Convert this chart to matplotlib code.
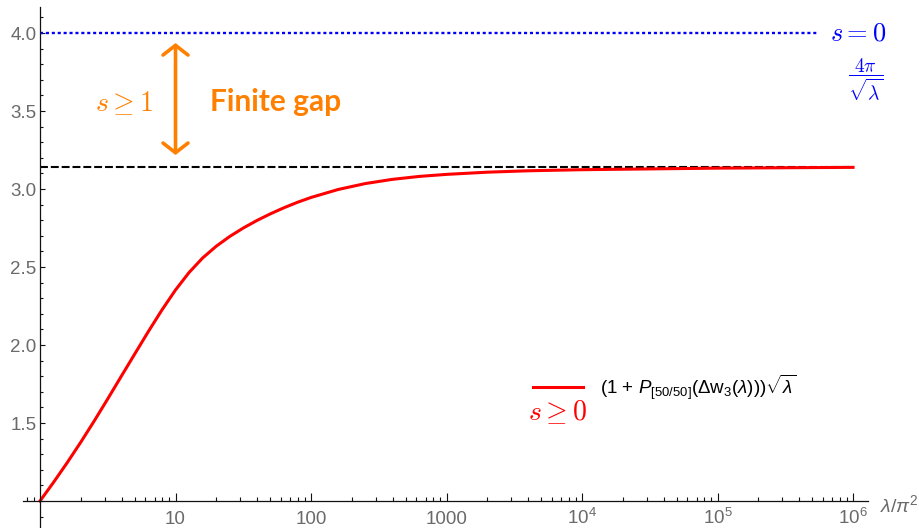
import numpy as np
import matplotlib
matplotlib.use("Agg")
import matplotlib.pyplot as plt
from matplotlib.lines import Line2D
from matplotlib.ticker import FixedLocator, FixedFormatter, LogLocator, MultipleLocator, NullFormatter

plt.rcParams["font.family"] = ["Liberation Sans", "DejaVu Sans"]
plt.rcParams["mathtext.fontset"] = "custom"
plt.rcParams["mathtext.rm"] = "Liberation Sans"
plt.rcParams["mathtext.it"] = "Liberation Sans:italic"
plt.rcParams["mathtext.bf"] = "Liberation Sans:bold"

# coupling lambda / pi^2 and the averaged gap (1 + P)(sqrt lambda)
lam_ratio = [1, 1.259, 1.585, 1.995, 2.512, 3.162, 3.981, 5.012, 6.31, 7.943,
             10, 12.59, 15.85, 19.95, 25.12, 31.62, 39.81, 50.12, 63.1, 79.43,
             100, 158.5, 251.2, 398.1, 631, 1000, 1995, 3981, 1e4, 1e5, 1e6]
gap_value = [1.0, 1.12, 1.245, 1.376, 1.513, 1.655, 1.80, 1.944, 2.087, 2.225,
             2.353, 2.465, 2.558, 2.633, 2.696, 2.75, 2.798, 2.841, 2.88, 2.915,
             2.946, 2.997, 3.035, 3.062, 3.081, 3.094, 3.108, 3.117, 3.124,
             3.134, 3.139]

free_level = 4.0          # s = 0
strong_limit = np.pi      # large-lambda limit

xtick_values = [10, 100, 1000, 1e4, 1e5, 1e6]
xtick_labels = ["10", "100", "1000", r"$10^{4}$", r"$10^{5}$", r"$10^{6}$"]
ytick_values = [1.5, 2.0, 2.5, 3.0, 3.5, 4.0]
ytick_labels = ["1.5", "2.0", "2.5", "3.0", "3.5", "4.0"]

RED = (1.0, 0.0, 0.0)
BLUE = (0.0, 0.0, 1.0)
ORANGE = (1.0, 0.5, 0.0)
GRAY = "#6a6a6a"

fig = plt.figure(figsize=(9.19, 5.28), dpi=100)
ax = fig.add_axes([23 / 919, 0.0, (868 - 23) / 919, (528 - 7) / 528])
ax.set_xscale("log")
ax.set_xlim(0.749, 1.29e6)
ax.set_ylim(0.827, 4.167)

for side in ("top", "right"):
    ax.spines[side].set_visible(False)
ax.spines["left"].set_position(("data", 1.0))
ax.spines["bottom"].set_position(("data", 1.0))
for side in ("left", "bottom"):
    ax.spines[side].set_linewidth(0.9)
    ax.spines[side].set_color("#111111")

ax.xaxis.set_major_locator(FixedLocator(xtick_values))
ax.xaxis.set_major_formatter(FixedFormatter(xtick_labels))
ax.xaxis.set_minor_locator(LogLocator(base=10, subs=np.arange(2, 10), numticks=30))
ax.xaxis.set_minor_formatter(NullFormatter())
ax.yaxis.set_major_locator(FixedLocator(ytick_values))
ax.yaxis.set_major_formatter(FixedFormatter(ytick_labels))
ax.yaxis.set_minor_locator(MultipleLocator(0.1))

ax.tick_params(which="both", direction="in", color="#111111", width=0.8,
               labelcolor=GRAY, labelsize=13.5)
ax.tick_params(axis="x", which="major", length=5.5, pad=16.5)
ax.tick_params(axis="x", which="minor", length=3)
ax.tick_params(axis="y", which="major", length=3.5, pad=2.5)
ax.tick_params(axis="y", which="minor", length=2)
for lbl in ax.get_xticklabels():
    lbl.set_verticalalignment("baseline")

# reference levels
ax.plot([1, 5.5e5], [free_level, free_level], color=BLUE, lw=1.7,
        linestyle=(0, (1.3, 1.2)), solid_capstyle="butt")
ax.plot([1, 1e6], [strong_limit, strong_limit], color="black", lw=1.5,
        linestyle=(0, (3.8, 1.4)))

# gap curve
ax.plot(lam_ratio, gap_value, color=RED, lw=2.2, solid_joinstyle="round")

# finite gap arrow between the two levels
ax.annotate("", xy=(10, 3.936), xytext=(10, 3.218),
            arrowprops=dict(arrowstyle="<->,head_length=0.35,head_width=0.45",
                            color=ORANGE, lw=2.6, mutation_scale=20,
                            shrinkA=0, shrinkB=0))
ax.text(4.17, 3.551, r"$s \geq 1$", color=ORANGE, fontsize=20,
        ha="center", va="center", math_fontfamily="cm")
ax.text(17.98, 3.558, "Finite gap", color=ORANGE, fontsize=21.5,
        fontweight="bold", family="Lato", ha="left", va="center")

ax.text(6.76e5, free_level, r"$s = 0$", color=BLUE, fontsize=19,
        ha="left", va="center", math_fontfamily="cm")
ax.text(1.23e6, 3.70, r"$\dfrac{4\pi}{\sqrt{\lambda}}$", color=BLUE, fontsize=14,
        ha="center", va="center", math_fontfamily="cm")

ax.text(6650, 1.57, r"$s \geq 0$", color=RED, fontsize=20,
        ha="center", va="center", math_fontfamily="cm")

leg_label = r"(1 + $P_{[50/50]}$($\Delta$w$_3$($\lambda$)))$\sqrt{\lambda}$"
ax.legend([Line2D([], [], color=RED, lw=2.2)], [leg_label],
          loc="center left", bbox_to_anchor=(533 / 919, 1 - 387 / 528),
          bbox_transform=fig.transFigure, frameon=False, fontsize=13.5,
          borderpad=0, borderaxespad=0, handlelength=2.67, handletextpad=0.9)

fig.text(880 / 919, 1 - 505 / 528, r"$\lambda/\pi^2$", color=GRAY,
         fontsize=14, ha="left", va="center")

fig.savefig("out.png", dpi=100)
